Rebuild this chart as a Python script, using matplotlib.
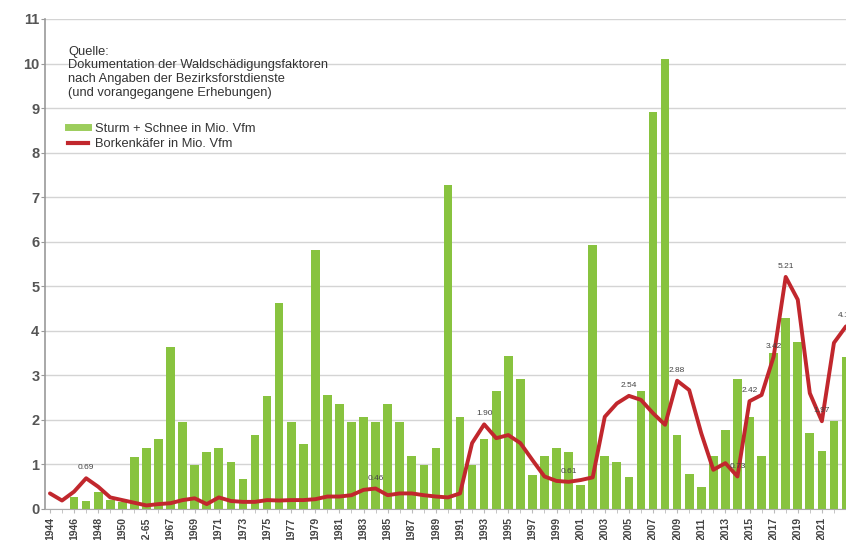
import matplotlib
matplotlib.use("Agg")
import matplotlib.pyplot as plt
from matplotlib.lines import Line2D
import numpy as np

plt.rcParams['font.family'] = ['Liberation Sans', 'DejaVu Sans']

categories = ["1944", "1945", "1946", "1947", "1948", "1949", "1950", "51-61", "62-65"] + \
    [str(y) for y in range(1966, 2024)]

sturm_schnee = [0, 0, 0.28, 0.19, 0.39, 0.20, 0.15, 1.16, 1.36, 1.57,
                3.63, 1.96, 0.99, 1.27, 1.36, 1.06, 0.67, 1.66, 2.54, 4.62,
                1.96, 1.46, 5.82, 2.55, 2.36, 1.96, 2.06, 1.96, 2.36, 1.96,
                1.18, 0.99, 1.37, 7.28, 2.06, 0.99, 1.57, 2.64, 3.44, 2.92,
                0.76, 1.18, 1.37, 1.27, 0.54, 5.93, 1.19, 1.06, 0.71, 2.66,
                8.91, 10.10, 1.66, 0.79, 0.50, 1.20, 1.78, 2.91, 2.07, 1.18,
                3.50, 4.29, 3.76, 1.70, 1.31, 1.98, 3.42]

borkenkaefer = [0.35, 0.19, 0.39, 0.69, 0.50, 0.26, 0.20, 0.14, 0.08, 0.11,
                0.13, 0.20, 0.24, 0.11, 0.26, 0.18, 0.16, 0.16, 0.20, 0.19,
                0.20, 0.20, 0.22, 0.28, 0.28, 0.31, 0.43, 0.46, 0.31, 0.35,
                0.35, 0.31, 0.28, 0.26, 0.35, 1.48, 1.90, 1.59, 1.66, 1.48,
                1.10, 0.73, 0.63, 0.61, 0.65, 0.71, 2.07, 2.37, 2.54, 2.45,
                2.15, 1.89, 2.88, 2.67, 1.70, 0.88, 1.03, 0.73, 2.42, 2.56,
                3.42, 5.21, 4.70, 2.60, 1.97, 3.73, 4.10]

labeled_years = ["1947", "1984", "1993", "2000", "2005", "2009", "2014", "2015",
                 "2017", "2018", "2021", "2023"]

source_text = ("Quelle:\nDokumentation der Waldschädigungsfaktoren\n"
               "nach Angaben der Bezirksforstdienste\n(und vorangegangene Erhebungen)")
legend_labels = ["Sturm + Schnee in Mio. Vfm", "Borkenkäfer in Mio. Vfm"]

green = "#88c33f"
red = "#c1272d"

fig = plt.figure(figsize=(8.46, 5.40), dpi=100)
ax = fig.add_axes([45/846, 31/540, 801/846, 490/540])

x = np.arange(len(categories))
ax.bar(x, sturm_schnee, width=0.72, color=green, zorder=2)
ax.plot(x, borkenkaefer, color=red, lw=2.8, solid_joinstyle='round',
        solid_capstyle='round', zorder=3, clip_on=True)

for yr in labeled_years:
    i = categories.index(yr)
    v = borkenkaefer[i]
    ax.annotate(f"{v:.2f}", (i, v), xytext=(0, 7.5), textcoords='offset points',
                ha='center', va='center', fontsize=6, color='#444444',
                zorder=4, annotation_clip=False)

ax.set_xlim(-0.41, 65.67)
ax.set_ylim(0, 11)
ax.set_yticks(range(0, 12))
ax.set_yticklabels([str(v) for v in range(0, 12)], fontsize=10.5, fontweight='bold',
                   color='#555555')
major = x[:65:2]
ax.set_xticks(major)
ax.set_xticklabels([categories[i] for i in major], rotation=90, fontsize=7.5,
                   fontweight='bold', color='#444444', va='top')
ax.set_xticks(x, minor=True)
ax.tick_params(axis='y', length=3, color='#999999', pad=1)
ax.tick_params(axis='x', which='both', length=3, color='#bbbbbb', pad=3)

ax.grid(axis='y', color='#d4d4d4', lw=1.0, zorder=0)
ax.set_axisbelow(True)
for s in ['top', 'right']:
    ax.spines[s].set_visible(False)
ax.spines['left'].set_color('#999999')
ax.spines['left'].set_linewidth(1.2)
ax.spines['bottom'].set_color('#aaaaaa')

ax.text(0.0287, 0.945, source_text, transform=ax.transAxes, fontsize=9.3,
        va='top', ha='left', color='#333333', linespacing=1.17)

handles = [Line2D([], [], color='#9ccd5c', lw=5),
           Line2D([], [], color=red, lw=3)]
ax.legend(handles, legend_labels, loc='upper left', bbox_to_anchor=(0.0287, 0.788),
          frameon=False, fontsize=9.3, handlelength=1.55, handletextpad=0.55,
          labelspacing=0.25, borderpad=0, borderaxespad=0, labelcolor='#333333')

fig.savefig("out.png", dpi=100)
